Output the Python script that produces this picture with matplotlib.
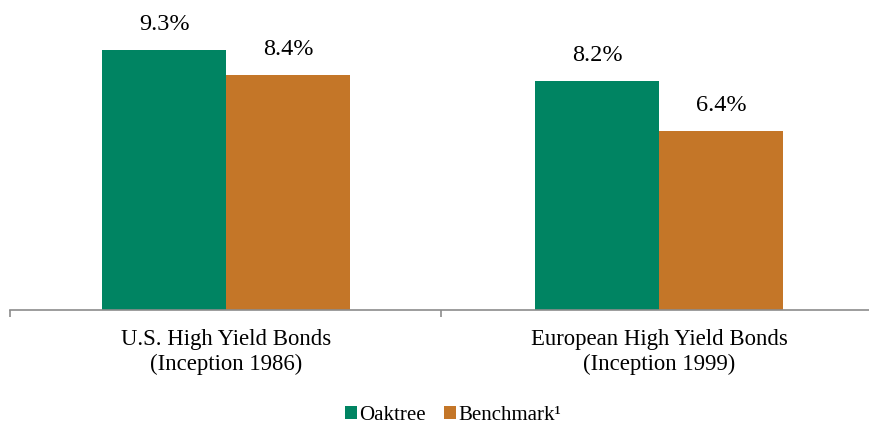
import matplotlib.pyplot as plt
import numpy as np

# fund performance since inception, annualized
categories = ['U.S. High Yield Bonds\n(Inception 1986)',
              'European High Yield Bonds\n(Inception 1999)']
oaktree = [9.3, 8.2]
benchmark = [8.4, 6.4]
series_names = ['Oaktree', 'Benchmark\u00b9']

green = '#008462'
orange = '#C47628'

plt.rcParams['font.family'] = ['Liberation Serif', 'DejaVu Serif']

fig = plt.figure(figsize=(8.7, 4.24), dpi=100)
ax = fig.add_axes([10 / 870, (424 - 310) / 424, 860 / 870, 310 / 424])

x = np.arange(len(categories))
w = 0.286
b1 = ax.bar(x - w / 2, oaktree, w, color=green, label=series_names[0])
b2 = ax.bar(x + w / 2, benchmark, w, color=orange, label=series_names[1])

for bars, vals in ((b1, oaktree), (b2, benchmark)):
    for r, v in zip(bars, vals):
        ax.annotate(f'{v:.1f}%', (r.get_x() + r.get_width() / 2, v),
                    xytext=(0, 14.5), textcoords='offset points',
                    ha='center', va='baseline', fontsize=17.5)

ax.set_xlim(-0.499, 1.487)
ax.set_ylim(0, 11.09)
ax.set_yticks([])
for s in ('top', 'right', 'left'):
    ax.spines[s].set_visible(False)
ax.spines['bottom'].set_color('#8c8c8c')
ax.spines['bottom'].set_linewidth(1.2)

ax.set_xticks([-0.499, 0.4965], labels=['', ''])
ax.tick_params(axis='x', length=5, color='#8c8c8c', width=1.2)
for xi, lab in zip(x, categories):
    ax.text(xi, -0.68, lab, ha='center', va='top', fontsize=16.4,
            linespacing=1.22)

fig.legend(handles=[b1, b2], loc='center', bbox_to_anchor=(453 / 870, 1 - 415 / 424),
           ncol=2, frameon=False, fontsize=15, handlelength=0.58, handleheight=0.58,
           handletextpad=0.1, columnspacing=0.9, borderpad=0.1)

fig.savefig('out.png', dpi=100)
